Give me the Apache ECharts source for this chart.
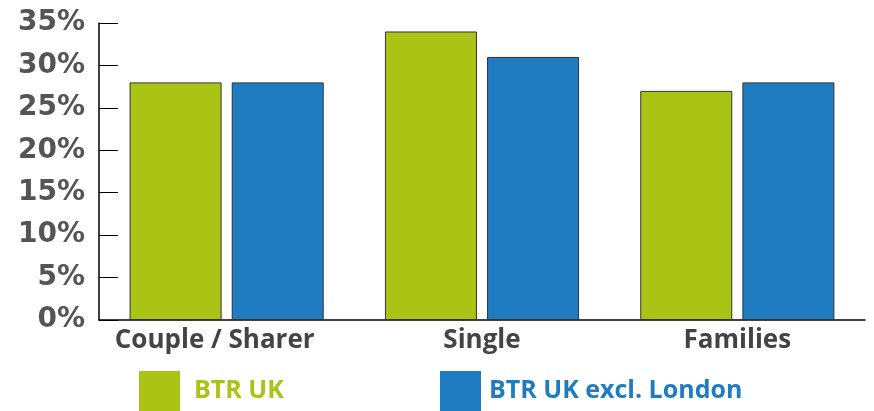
<!DOCTYPE html>
<html><head><meta charset="utf-8">
<script src="https://cdn.jsdelivr.net/npm/echarts@6/dist/echarts.min.js"></script>
<style>html,body{margin:0;padding:0;background:#fff}#c{width:874px;height:411px}</style>
</head><body><div id="c"></div>
<script>
const categories = ['Couple / Sharer', 'Single', 'Families'];
const btrUK = [28, 34, 27];
const btrUKexLondon = [28, 31, 28];
const seriesNames = ['BTR UK', 'BTR UK excl. London'];
const green = '#a9c414';
const blue = '#1f7cc1';
const chart = echarts.init(document.getElementById('c'));
const catData = categories.map((c, i) => i === 0 ? {value: c, textStyle: {padding: [0, 24, 0, 0]}} : c);
chart.setOption({
  animation: false,
  grid: {left: 99, right: 9, top: 23, bottom: 91, containLabel: false},
  legend: [
    {data: [{name: seriesNames[0], textStyle: {color: green}}], left: 134, top: 366, itemWidth: 41, itemHeight: 40,
     icon: 'rect', itemStyle: {borderWidth: 0},
     textStyle: {fontFamily: 'Open Sans', fontWeight: 'bold', fontSize: 25, padding: [0,0,0,9]}},
    {data: [{name: seriesNames[1], textStyle: {color: blue}}], left: 435, top: 366, itemWidth: 41, itemHeight: 40,
     icon: 'rect', itemStyle: {borderWidth: 0},
     textStyle: {fontFamily: 'Open Sans', fontWeight: 'bold', fontSize: 25, padding: [0,0,0,3]}}
  ],
  xAxis: {
    type: 'category', data: catData,
    axisLine: {lineStyle: {color: '#000', width: 1.5}},
    axisTick: {inside: true, length: 7, lineStyle: {color: '#000'}},
    axisLabel: {interval: 0, hideOverlap: false, color: '#444', fontFamily: 'Open Sans', fontWeight: 'bold', fontSize: 26, margin: 8}
  },
  yAxis: {
    type: 'value', min: 0, max: 35, interval: 5,
    axisLine: {show: true, lineStyle: {color: '#000', width: 1.5}},
    axisTick: {show: true, inside: true, length: 19, lineStyle: {color: '#000'}},
    splitLine: {show: false},
    axisLabel: {color: '#555', fontFamily: 'DejaVu Sans', fontWeight: 'bold', fontSize: 28, margin: 14,
      padding: [0, 0, 6, 0], formatter: '{value}%'}
  },
  series: [
    {name: seriesNames[0], type: 'bar', data: btrUK, barWidth: 92, barGap: '11%',
     itemStyle: {color: green, borderColor: '#333', borderWidth: 1}},
    {name: seriesNames[1], type: 'bar', data: btrUKexLondon, barWidth: 92,
     itemStyle: {color: blue, borderColor: '#333', borderWidth: 1}}
  ]
});
</script></body></html>
